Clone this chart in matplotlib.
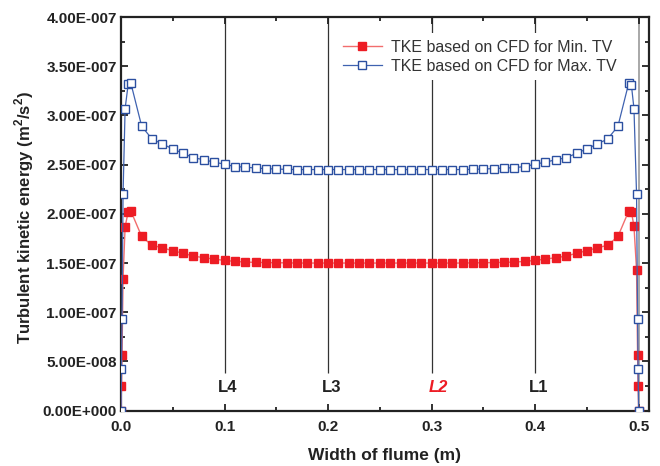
import numpy as np
import matplotlib
matplotlib.use('Agg')
import matplotlib.pyplot as plt
from matplotlib.ticker import MultipleLocator, FuncFormatter

plt.rcParams['font.family'] = ['Liberation Sans', 'DejaVu Sans']
plt.rcParams['mathtext.fontset'] = 'custom'
plt.rcParams['mathtext.bf'] = 'Liberation Sans:bold'
plt.rcParams['mathtext.rm'] = 'Liberation Sans:bold'

# width positions (m)
x_left = [0.0, 0.0005, 0.001, 0.002, 0.004, 0.007, 0.0095]
x_mid = [0.02, 0.03, 0.04, 0.05, 0.06, 0.07, 0.08, 0.09, 0.10, 0.11,
         0.12, 0.13, 0.14, 0.15, 0.16, 0.17, 0.18, 0.19, 0.20, 0.21,
         0.22, 0.23, 0.24, 0.25, 0.26, 0.27, 0.28, 0.29, 0.30, 0.31,
         0.32, 0.33, 0.34, 0.35, 0.36, 0.37, 0.38, 0.39, 0.40, 0.41,
         0.42, 0.43, 0.44, 0.45, 0.46, 0.47, 0.48]
x_right = [0.4905, 0.493, 0.4955, 0.498, 0.499, 0.4995, 0.5]

# TKE in units of 1e-7 m2/s2
tke_min = ([0.0, 0.25, 0.565, 1.34, 1.87, 2.02, 2.03] +
           [1.77, 1.68, 1.655, 1.625, 1.60, 1.57, 1.555, 1.54, 1.527, 1.517,
            1.51, 1.507, 1.505, 1.503, 1.502, 1.50, 1.50, 1.50, 1.50, 1.50,
            1.50, 1.50, 1.50, 1.50, 1.50, 1.50, 1.50, 1.50, 1.50, 1.50,
            1.50, 1.50, 1.502, 1.503, 1.505, 1.507, 1.51, 1.517, 1.527, 1.54,
            1.555, 1.57, 1.60, 1.625, 1.655, 1.68, 1.77] +
           [2.03, 2.02, 1.875, 1.43, 0.57, 0.25, 0.0])
tke_max = ([0.0, 0.42, 0.93, 2.20, 3.07, 3.32, 3.33] +
           [2.89, 2.76, 2.71, 2.66, 2.615, 2.57, 2.55, 2.525, 2.505, 2.48,
            2.475, 2.465, 2.46, 2.455, 2.452, 2.45, 2.45, 2.45, 2.45, 2.45,
            2.45, 2.45, 2.45, 2.45, 2.45, 2.45, 2.45, 2.45, 2.45, 2.45,
            2.45, 2.45, 2.452, 2.455, 2.46, 2.465, 2.47, 2.48, 2.505, 2.525,
            2.55, 2.57, 2.615, 2.66, 2.71, 2.76, 2.89] +
           [3.33, 3.31, 3.07, 2.20, 0.93, 0.42, 0.0])

loc_x = [0.1, 0.2, 0.3, 0.4]
loc_names = ['L4', 'L3', 'L2', 'L1']

x = np.array(x_left + x_mid + x_right)
y_min = np.array(tke_min) * 1e-7
y_max = np.array(tke_max) * 1e-7

fig = plt.figure(figsize=(6.6, 4.66), dpi=100)
ax = fig.add_axes([0.1833, 0.1187, 0.80, 0.8448])

# section lines (stop just above the labels)
ax.vlines(loc_x, 0.38e-7, 4e-7, color='#333333', lw=0.9, zorder=1)
ax.axvline(0.5, color='#999999', lw=1.2, zorder=1)

ax.plot(x, y_min, color='#F26D6D', lw=1.0, marker='s', ms=5.5,
        mfc='#ED1C24', mec='#ED1C24', label='TKE based on CFD for Min. TV', zorder=3)
ax.plot(x, y_max, color='#3F62B0', lw=0.9, marker='s', ms=5.5,
        mfc='white', mec='#2B4FA0', mew=1.0, label='TKE based on CFD for Max. TV', zorder=4)

for lx, name in zip(loc_x, loc_names):
    if name == 'L2':
        ax.text(lx + 0.007, 0.24e-7, name, color='#ED1C24', fontsize=12,
                fontweight='bold', style='italic', ha='center', va='center')
    else:
        ax.text(lx + 0.003, 0.24e-7, name, color='#222222', fontsize=12,
                fontweight='bold', ha='center', va='center')

ax.set_xlim(0, 0.51)
ax.set_ylim(0, 4e-7)
ax.xaxis.set_major_locator(MultipleLocator(0.1))
ax.xaxis.set_minor_locator(MultipleLocator(0.05))
ax.yaxis.set_major_locator(MultipleLocator(0.5e-7))
ax.yaxis.set_minor_locator(MultipleLocator(0.25e-7))


def sci_fmt(v, pos):
    mant, ex = f"{v:.2E}".split('E')
    return f"{mant}E{int(ex):+04d}"


ax.yaxis.set_major_formatter(FuncFormatter(sci_fmt))
ax.xaxis.set_major_formatter(FuncFormatter(lambda v, pos: f"{v:.1f}"))

ax.tick_params(which='both', direction='in', top=True, right=True,
               width=1.3, labelsize=11, colors='#222222')
ax.tick_params(which='major', length=5)
ax.tick_params(which='minor', length=3)
ax.tick_params(axis='y', pad=3)
ax.tick_params(axis='x', pad=7)
for lab in ax.get_xticklabels() + ax.get_yticklabels():
    lab.set_fontweight('bold')
for sp in ax.spines.values():
    sp.set_linewidth(1.6)
    sp.set_color('#222222')

ax.set_xlabel('Width of flume (m)', fontsize=12.5, fontweight='bold', color='#222222')
ax.set_ylabel(r'Turbulent kinetic energy (m$^{\mathbf{2}}$/s$^{\mathbf{2}}$)',
              fontsize=12, fontweight='bold', color='#222222')
ax.xaxis.set_label_coords(0.5, -0.095)
ax.yaxis.set_label_coords(-0.16, 0.49)

leg = ax.legend(loc='upper left', bbox_to_anchor=(0.409, 0.959), frameon=True,
                fontsize=11.5, handlelength=2.4, handletextpad=0.6,
                labelspacing=0.25, borderpad=0.4, borderaxespad=0)
leg.get_frame().set_facecolor('white')
leg.get_frame().set_edgecolor('none')
leg.get_frame().set_alpha(1)
leg.get_frame().set_boxstyle('square', pad=0)
leg.set_zorder(5)
for t in leg.get_texts():
    t.set_color('#333333')

fig.savefig('out.png', dpi=100)
